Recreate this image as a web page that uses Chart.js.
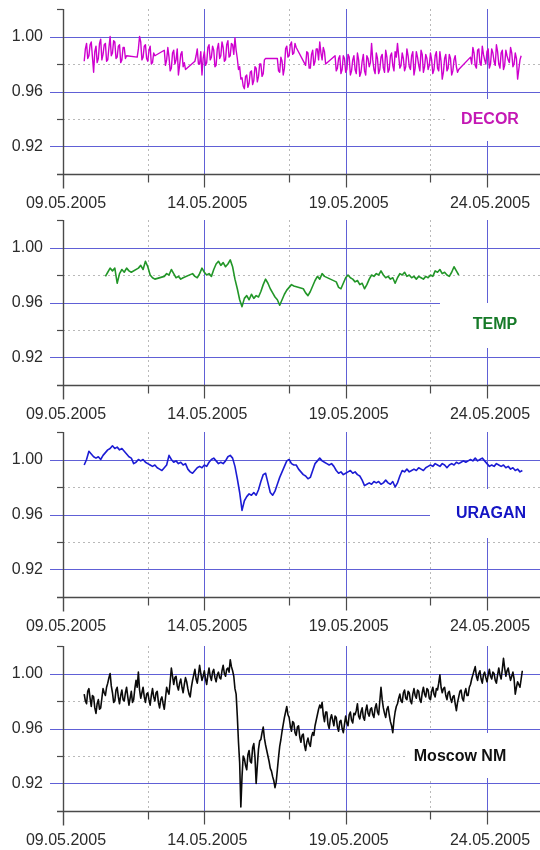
<!DOCTYPE html>
<html>
<head>
<meta charset="utf-8">
<script src="https://cdn.jsdelivr.net/npm/chart.js@4/dist/chart.umd.min.js"></script>
<style>
  html, body { margin: 0; padding: 0; background: #fff; width: 540px; height: 850px; overflow: hidden; }
  .panel { position: absolute; left: 0; width: 540px; height: 210px; }
  canvas { display: block; }
</style>
</head>
<body>
<div class="panel" style="top:0px"><canvas id="p0" width="540" height="210"></canvas></div>
<div class="panel" style="top:211px"><canvas id="p1" width="540" height="210"></canvas></div>
<div class="panel" style="top:423px"><canvas id="p2" width="540" height="210"></canvas></div>
<div class="panel" style="top:637px"><canvas id="p3" width="540" height="210"></canvas></div>
<script>
// Time axis: days counted from 09.05.2005 00:00
const SERIES_START = new Date(2005, 4, 9);
const HOURLY = 1 / 24;
const TWO_HOURLY = 2 / 24;
const X_MIN = 0, X_MAX = 16.875;
const xLabelTicks = [0, 5, 10, 15];
const xDottedTicks = [3, 8, 13];

// Normalised count rate axis
const Y_MIN = 0.90, Y_MAX = 1.02;
const yLabelTicks = [0.92, 0.96, 1.00];
const yDottedTicks = [0.94, 0.98];
const ySmallTicks = [0.94, 0.98, 1.02];

// DECOR, hourly: two rows per day (00-11 h, 12-23 h)
const decor = [
  null,null,null,null,null,null,null,null,null,null,null,null,
  null,null,null,null,null,null,0.982,0.991,0.995,0.984,0.986,0.994,
  0.996,0.985,0.974,0.989,0.993,0.981,0.984,0.995,0.998,0.983,0.987,0.994,
  0.995,0.982,0.983,0.992,1.000,0.986,0.988,0.997,0.996,0.984,0.985,0.993,
  0.994,0.981,0.983,0.992,0.992,0.984,0.986,null,null,null,null,null,
  null,null,null,0.985,0.991,1.000,0.996,0.983,0.985,0.993,0.994,0.984,
  0.982,0.990,0.993,0.980,0.981,0.988,0.986,null,null,null,null,null,
  null,null,0.990,0.979,0.983,0.992,0.985,0.975,0.977,0.988,0.990,0.980,
  0.983,0.991,0.972,0.979,0.987,0.989,0.978,0.981,0.976,null,null,null,
  null,null,null,null,0.982,0.986,0.991,0.980,0.980,0.989,0.972,0.984,
  0.989,0.979,0.981,0.992,0.994,0.983,0.985,0.993,0.990,0.978,0.979,0.991,
  0.995,0.984,0.986,0.996,0.992,0.982,0.983,0.994,0.997,0.985,0.986,0.995,
  0.994,0.987,0.999,0.990,0.984,0.976,0.978,0.969,0.970,0.964,0.962,0.971,
  0.972,0.963,0.966,0.974,0.975,0.965,0.968,0.978,0.977,0.967,0.971,0.980,
  0.980,0.971,0.973,0.983,0.984,null,null,null,null,null,null,null,
  null,null,0.984,0.975,0.974,0.985,0.982,0.972,0.977,0.991,0.993,0.985,
  0.986,0.994,0.996,0.987,0.988,0.995,0.992,null,null,null,null,null,
  null,null,0.979,0.989,0.988,0.977,0.977,0.987,0.990,0.979,0.982,0.991,
  0.991,0.983,0.996,0.988,0.983,0.992,0.989,0.980,null,null,null,null,
  null,null,null,0.986,0.975,0.977,0.984,0.986,0.973,0.976,0.986,0.984,
  0.974,0.976,0.987,0.985,0.972,0.975,0.983,0.986,0.976,0.973,0.988,0.983,
  0.971,0.974,0.982,0.987,0.975,0.972,0.986,0.984,0.978,0.981,0.995,0.983,
  0.976,0.973,0.988,0.984,0.973,0.976,0.985,0.987,0.977,0.974,0.990,0.985,
  0.974,0.976,0.986,0.988,0.979,0.975,0.989,0.985,0.995,0.986,0.977,0.979,
  0.988,0.984,0.975,0.978,0.991,0.986,0.978,0.976,0.986,0.989,0.972,0.977,
  0.989,0.985,0.979,0.975,0.990,0.987,0.974,0.978,0.987,0.984,0.976,0.979,
  0.988,0.983,0.973,0.976,0.986,0.989,0.977,0.975,0.989,0.982,0.969,0.974,
  0.984,0.987,0.975,0.977,0.987,0.984,0.972,0.975,0.983,0.986,0.978,0.974,
  0.976,null,null,null,null,null,null,null,null,null,0.985,0.980,
  0.992,0.988,0.979,0.977,0.990,0.991,0.981,0.979,0.993,0.987,0.983,0.980,
  0.989,0.991,0.977,0.980,0.991,0.988,0.982,0.979,0.994,0.989,0.980,0.977,
  0.988,0.990,0.976,0.979,0.990,0.986,0.983,0.981,0.992,0.988,0.978,0.980,
  0.988,0.984,0.969,0.976,0.983,0.986
];

// TEMP, every 2 hours: one row per day
const temp = [
  null,null,null,null,null,null,null,null,null,null,null,null,
  null,null,null,null,null,null,0.979,0.982,0.985,0.983,0.985,0.974,
  0.981,0.984,0.982,0.985,0.983,0.982,null,null,0.985,0.987,0.984,0.990,
  0.986,0.980,0.978,0.977,null,null,null,0.979,0.981,0.980,0.984,0.981,
  0.978,0.979,0.977,0.978,null,null,null,0.981,0.979,0.978,0.981,0.985,
  0.982,0.980,0.981,0.979,0.984,0.988,0.990,0.987,0.989,0.986,0.988,0.991,
  0.986,0.977,0.970,0.962,0.957,0.963,0.965,0.962,0.966,0.963,0.965,0.964,
  0.968,0.973,0.977,0.974,0.970,0.967,0.964,0.962,0.958,0.962,0.966,0.969,
  0.971,0.973,0.972,null,null,null,0.970,0.967,0.965,0.968,0.972,0.976,
  0.979,0.977,0.981,0.979,null,null,null,null,0.975,0.971,0.970,0.974,
  0.978,0.980,0.978,0.977,0.975,0.976,0.973,0.974,0.970,0.973,0.977,0.980,
  0.979,0.981,0.980,0.983,0.980,0.978,0.979,0.977,0.978,0.974,0.978,0.981,
  0.980,0.982,0.979,0.980,0.978,0.979,0.977,0.979,0.978,0.977,0.979,0.978,
  0.980,0.979,0.983,0.982,0.984,0.981,0.982,0.980,0.979,0.982,0.986,0.983,
  0.980
];

// URAGAN, every 2 hours: one row per day
const uragan = [
  null,null,null,null,null,null,null,null,null,0.996,1.000,1.006,
  1.004,1.002,1.001,1.002,1.000,1.003,1.005,1.007,1.008,1.010,1.008,1.009,
  1.007,1.008,1.006,1.004,1.002,1.001,0.997,0.998,1.000,0.999,1.000,0.998,
  0.997,0.996,0.995,0.996,0.994,0.993,0.992,0.994,0.996,1.003,1.000,0.998,
  0.999,0.997,0.998,0.996,0.997,0.993,0.991,0.990,0.992,0.994,0.995,0.994,
  0.996,0.995,0.998,1.000,1.001,0.999,0.997,0.998,0.997,0.999,1.002,1.003,
  1.001,0.995,0.986,0.976,0.963,0.970,0.973,0.975,0.974,0.976,0.974,0.978,
  0.984,0.989,0.990,0.983,0.976,0.974,0.977,0.982,0.987,0.991,0.995,0.999,
  1.000,0.997,0.996,0.996,0.993,0.991,0.989,0.988,0.986,0.987,0.992,0.997,
  0.999,1.001,0.999,0.998,0.997,0.996,0.997,0.995,0.992,0.990,0.991,0.989,
  0.990,0.991,0.992,0.990,0.991,0.989,0.988,0.985,0.981,0.982,0.983,0.982,
  0.984,0.983,0.984,0.982,0.983,0.985,0.983,0.982,0.984,0.980,0.983,0.988,
  0.992,0.991,0.993,0.991,0.992,0.993,0.992,0.994,0.993,0.992,0.994,0.995,
  0.996,0.995,0.997,0.996,0.995,0.997,0.996,0.994,0.996,0.997,0.996,0.998,
  0.997,0.998,0.999,0.998,0.999,1.000,0.999,1.001,0.999,1.000,1.001,0.999,
  0.997,0.995,0.996,0.995,0.997,0.996,0.995,0.996,0.994,0.995,0.993,0.994,
  0.992,0.993,0.991,0.992
];

// Moscow neutron monitor, hourly: two rows per day (00-11 h, 12-23 h)
const moscowNM = [
  null,null,null,null,null,null,null,null,null,null,null,null,
  null,null,null,null,null,null,0.985,0.980,0.978,0.987,0.989,0.982,
  0.976,0.984,0.983,0.975,0.971,0.978,0.981,0.974,0.975,0.982,0.989,0.986,
  0.984,0.990,0.993,0.997,1.000,0.991,0.986,0.979,0.980,0.988,0.990,0.983,
  0.978,0.984,0.988,0.981,0.980,0.986,0.990,0.983,0.977,0.982,0.987,0.979,
  0.981,0.989,0.995,0.990,1.001,0.988,0.982,0.986,0.990,0.983,0.979,0.985,
  0.986,0.981,0.977,0.984,0.989,0.983,0.980,0.986,0.987,0.979,0.975,0.981,
  0.983,0.978,0.974,0.982,0.990,0.987,0.985,0.994,1.004,0.998,0.992,0.997,
  0.998,0.991,0.988,0.993,0.996,0.990,0.986,0.992,0.997,0.994,0.989,0.985,
  0.983,0.990,0.995,0.999,1.003,0.996,0.993,0.999,1.006,1.000,0.995,0.998,
  1.002,0.996,0.992,0.999,1.004,0.998,0.995,1.001,1.003,0.997,0.994,0.999,
  1.001,0.997,0.996,1.002,1.006,1.000,0.998,1.003,1.004,1.001,1.010,1.005,
  1.002,0.998,0.989,0.985,0.969,0.950,0.935,0.903,0.925,0.940,0.938,0.933,
  0.930,0.941,0.944,0.936,0.935,0.946,0.949,0.939,0.920,0.933,0.945,0.951,
  0.952,0.957,0.961,0.953,0.948,0.944,0.940,0.936,0.931,0.929,0.925,0.922,
  0.917,0.921,0.930,0.939,0.947,0.952,0.958,0.963,0.968,0.972,0.976,0.970,
  0.968,0.962,0.958,0.965,0.964,0.957,0.955,0.961,0.962,0.954,0.950,0.955,
  0.956,0.948,0.944,0.950,0.953,0.949,0.947,0.954,0.957,0.955,0.962,0.966,
  0.970,0.974,0.977,0.975,0.979,0.970,0.965,0.972,0.972,0.963,0.960,0.967,
  0.970,0.966,0.962,0.969,0.968,0.961,0.958,0.965,0.966,0.960,0.957,0.963,
  0.969,0.964,0.962,0.970,0.972,0.966,0.964,0.971,0.970,0.973,0.978,0.969,
  0.967,0.972,0.975,0.968,0.966,0.973,0.977,0.971,0.969,0.974,0.975,0.970,
  0.968,0.975,0.978,0.972,0.970,0.980,0.990,0.981,0.975,0.971,0.968,0.974,
  0.976,0.970,0.965,0.962,0.957,0.966,0.972,0.976,0.978,0.982,0.985,0.980,
  0.979,0.986,0.988,0.982,0.981,0.987,0.986,0.980,0.978,0.985,0.989,0.984,
  0.982,0.988,0.987,0.981,0.979,0.986,0.990,0.985,0.983,0.989,0.988,0.982,
  0.981,0.987,0.990,0.985,0.983,0.989,0.988,0.993,0.999,0.990,0.986,0.989,
  0.990,0.984,0.981,0.986,0.987,0.982,0.979,0.983,0.984,0.978,0.973,0.979,
  0.983,0.987,0.988,0.982,0.980,0.986,0.989,0.984,0.984,0.990,0.992,0.996,
  0.999,1.002,1.005,0.998,0.995,1.000,1.002,0.996,0.993,0.999,1.001,0.997,
  0.994,0.999,1.003,0.998,0.996,1.001,1.000,0.995,0.993,0.999,1.004,0.999,
  0.996,1.003,1.011,1.004,0.998,1.002,1.004,0.999,0.995,0.998,1.001,0.996,
  0.985,0.990,0.994,0.992,0.990,0.996,1.002
];

const panels = [
  { canvas: 'p0', name: 'DECOR',     values: decor,    step: HOURLY,     width: 1.4,
    line: 'rgb(206,0,206)', text: 'rgb(196,24,180)', labelAt: [490, 120], box: [446, 99, 94, 42] },
  { canvas: 'p1', name: 'TEMP',      values: temp,     step: TWO_HOURLY, width: 1.6,
    line: 'rgb(34,150,40)', text: 'rgb(22,122,40)',  labelAt: [495, 114], box: [440, 92, 100, 45] },
  { canvas: 'p2', name: 'URAGAN',    values: uragan,   step: TWO_HOURLY, width: 1.6,
    line: 'rgb(28,28,212)', text: 'rgb(20,20,196)',  labelAt: [491, 91],  box: [430, 66, 110, 49] },
  { canvas: 'p3', name: 'Moscow NM', values: moscowNM, step: HOURLY,     width: 1.6,
    line: 'rgb(10,10,10)',  text: 'rgb(16,16,16)',   labelAt: [460, 120], box: [405, 96, 135, 45] }
];

const AXIS = '#4a4a4a';
const GRID_BLUE = 'rgb(96,96,214)';
const GRID_DOT = 'rgb(185,185,185)';

function dateLabel(day) {
  const d = new Date(SERIES_START.getFullYear(), SERIES_START.getMonth(), SERIES_START.getDate() + day);
  const p = n => String(n).padStart(2, '0');
  return p(d.getDate()) + '.' + p(d.getMonth() + 1) + '.' + d.getFullYear();
}

function toPoints(values, step) {
  return values.map((v, i) => ({ x: i * step, y: v }));
}

// Axes, grid and the series name box
const framePlugin = {
  id: 'frame',
  beforeDatasetsDraw(chart, args, opts) {
    const { ctx, chartArea: a, scales: { x, y } } = chart;
    const seg = (x1, y1, x2, y2) => { ctx.beginPath(); ctx.moveTo(x1, y1); ctx.lineTo(x2, y2); ctx.stroke(); };
    const py = v => Math.round(y.getPixelForValue(v)) + 0.5;
    const px = v => Math.round(x.getPixelForValue(v)) + 0.5;
    ctx.save();
    ctx.lineWidth = 1;

    // dotted grid
    ctx.strokeStyle = GRID_DOT;
    ctx.setLineDash([2, 3]);
    yDottedTicks.forEach(v => seg(a.left, py(v), a.right, py(v)));
    xDottedTicks.forEach(d => seg(px(d), a.top, px(d), a.bottom));
    ctx.setLineDash([]);

    // solid grid
    ctx.strokeStyle = GRID_BLUE;
    yLabelTicks.forEach(v => seg(a.left - 13, py(v), a.right, py(v)));
    xLabelTicks.filter(d => d > X_MIN).forEach(d => seg(px(d), a.top, px(d), a.bottom));

    // name box
    const b = opts.box;
    ctx.fillStyle = '#fff';
    ctx.fillRect(b[0], b[1], b[2], b[3]);

    // axes and tick marks
    ctx.strokeStyle = AXIS;
    ctx.lineWidth = 1.4;
    const x0 = Math.round(a.left) + 0.5;
    const yb = py(Y_MIN);
    seg(x0, y.getPixelForValue(Y_MAX), x0, yb + 14);
    seg(a.left - 6, yb, a.right, yb);
    ctx.lineWidth = 1.2;
    ySmallTicks.forEach(v => seg(a.left - 6, py(v), a.left, py(v)));
    xLabelTicks.filter(d => d > X_MIN).forEach(d => seg(px(d), yb, px(d), yb + 13));
    xDottedTicks.forEach(d => seg(px(d), yb, px(d), yb + 8));
    ctx.restore();
  },
  afterDatasetsDraw(chart, args, opts) {
    const { ctx } = chart;
    ctx.save();
    ctx.font = 'bold 16px "Liberation Sans", Arial, sans-serif';
    ctx.fillStyle = opts.color;
    ctx.textAlign = 'center';
    ctx.textBaseline = 'middle';
    ctx.fillText(opts.text, opts.at[0], opts.at[1]);
    ctx.restore();
  }
};

const tickFont = { family: '"Liberation Sans", Arial, sans-serif', size: 16 };

panels.forEach(p => {
  new Chart(document.getElementById(p.canvas), {
    type: 'line',
    data: {
      datasets: [{
        label: p.name,
        data: toPoints(p.values, p.step),
        borderColor: p.line,
        borderWidth: p.width,
        borderJoinStyle: 'round',
        pointRadius: 0,
        tension: 0,
        spanGaps: true,
        segment: {
          borderWidth: ctx => (ctx.p1DataIndex - ctx.p0DataIndex > 1 ? 0.7 : p.width)
        }
      }]
    },
    options: {
      responsive: false,
      animation: false,
      devicePixelRatio: 1,
      layout: { padding: { top: 9, right: 0, bottom: 0, left: 0 } },
      plugins: {
        legend: { display: false },
        tooltip: { enabled: false },
        frame: { box: p.box, text: p.name, color: p.text, at: p.labelAt }
      },
      scales: {
        x: {
          type: 'linear',
          min: X_MIN,
          max: X_MAX,
          grid: { display: false, drawTicks: false },
          border: { display: false },
          afterBuildTicks: s => { s.ticks = xLabelTicks.map(v => ({ value: v })); },
          afterFit: s => { s.height = 36; s.paddingLeft = 0; s.paddingRight = 0; },
          ticks: {
            autoSkip: false,
            maxRotation: 0,
            padding: 20,
            labelOffset: 3,
            color: '#2b2b2b',
            font: tickFont,
            callback: v => dateLabel(v)
          }
        },
        y: {
          min: Y_MIN,
          max: Y_MAX,
          grid: { display: false, drawTicks: false },
          border: { display: false },
          afterBuildTicks: s => { s.ticks = yLabelTicks.map(v => ({ value: v })); },
          afterFit: s => { s.width = 63; s.paddingTop = 0; s.paddingBottom = 0; },
          ticks: {
            padding: 20,
            color: '#2b2b2b',
            font: tickFont,
            callback: v => Number(v).toFixed(2)
          }
        }
      }
    },
    plugins: [framePlugin]
  });
});
</script>
</body>
</html>
